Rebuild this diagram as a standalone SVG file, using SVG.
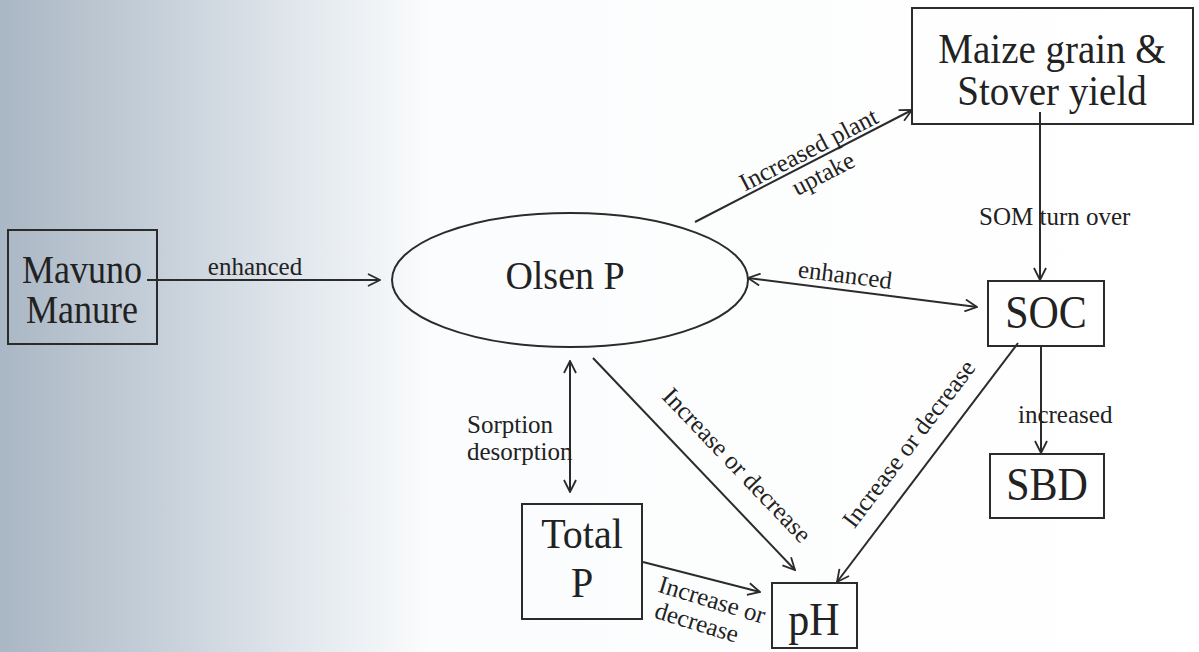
<svg xmlns="http://www.w3.org/2000/svg" width="1199" height="652" viewBox="0 0 1199 652">
<defs>
<linearGradient id="bg" x1="0" y1="0" x2="1" y2="0" gradientUnits="objectBoundingBox">
<stop offset="0" stop-color="#aab7c4"/>
<stop offset="0.12" stop-color="#c3cdd7"/>
<stop offset="0.27" stop-color="#e6ebf0"/>
<stop offset="0.36" stop-color="#fbfcfd"/>
<stop offset="1" stop-color="#ffffff"/>
</linearGradient>
<marker id="ah" viewBox="0 0 14 14" refX="13" refY="7" markerWidth="14" markerHeight="14" markerUnits="userSpaceOnUse" orient="auto-start-reverse">
<path d="M1,1 L13,7 L1,13" fill="none" stroke="#2b2b2b" stroke-width="1.8"/>
</marker>
</defs>
<style>
.box{fill:none;stroke:#2b2b2b;stroke-width:2}
.node{font-family:"Liberation Serif","Times New Roman",serif;fill:#222;text-anchor:middle}
.lbl{font-family:"Liberation Serif","Times New Roman",serif;fill:#222;font-size:25px}
.c{stroke:#2b2b2b;stroke-width:2;fill:none}
</style>
<rect x="0" y="0" width="1199" height="652" fill="url(#bg)"/>

<g id="mavuno">
<rect class="box" x="8" y="230" width="149" height="114"/>
<text class="node" transform="translate(82,283) scale(1,1.1)" font-size="36">Mavuno</text>
<text class="node" transform="translate(82,323) scale(1,1.1)" font-size="36">Manure</text>
</g>
<g id="olsen">
<ellipse class="box" cx="570" cy="280" rx="178" ry="67"/>
<text class="node" transform="translate(565,289) scale(1,1.08)" font-size="38">Olsen P</text>
</g>
<g id="maize">
<rect class="box" x="912" y="8" width="281" height="116"/>
<text class="node" transform="translate(1052,63) scale(1,1.06)" font-size="39">Maize grain &amp;</text>
<text class="node" transform="translate(1052,105) scale(1,1.06)" font-size="39">Stover yield</text>
</g>
<g id="soc">
<rect class="box" x="988" y="281" width="116" height="65"/>
<text class="node" transform="translate(1046,328) scale(1,1.08)" font-size="42">SOC</text>
</g>
<g id="sbd">
<rect class="box" x="990" y="454" width="114" height="64"/>
<text class="node" transform="translate(1047,500) scale(1,1.08)" font-size="42">SBD</text>
</g>
<g id="totalp">
<rect class="box" x="522" y="504" width="120" height="115"/>
<text class="node" transform="translate(582,548) scale(1,1.08)" font-size="40">Total</text>
<text class="node" transform="translate(582,597) scale(1,1.08)" font-size="40">P</text>
</g>
<g id="ph">
<rect class="box" x="772" y="583" width="85" height="65"/>
<text class="node" transform="translate(814,635) scale(1,1.08)" font-size="42">pH</text>
</g>

<g id="connectors">
<line class="c" x1="147" y1="280" x2="380" y2="280" marker-end="url(#ah)"/>
<text class="lbl" x="255" y="275" text-anchor="middle">enhanced</text>

<line class="c" x1="695" y1="222" x2="912" y2="110" marker-end="url(#ah)"/>
<g transform="translate(814.1,160.5) rotate(-27.3)">
<text class="lbl" x="0" y="-4" text-anchor="middle">Increased plant</text>
<text class="lbl" x="2" y="24" text-anchor="middle">uptake</text>
</g>

<line class="c" x1="1040" y1="112" x2="1040" y2="280" marker-end="url(#ah)"/>
<text class="lbl" x="979" y="225">SOM turn over</text>

<line class="c" x1="748" y1="278" x2="977" y2="307" marker-start="url(#ah)" marker-end="url(#ah)"/>
<g transform="translate(843.1,290) rotate(7.2)">
<text class="lbl" x="0" y="-7" text-anchor="middle">enhanced</text>
</g>

<line class="c" x1="1041" y1="346" x2="1041" y2="453" marker-end="url(#ah)"/>
<text class="lbl" x="1018" y="423">increased</text>

<line class="c" x1="1018" y1="343" x2="837" y2="582" marker-end="url(#ah)"/>
<g transform="translate(929.7,459.6) rotate(-52.9)">
<text class="lbl" x="0" y="-18" text-anchor="middle">Increase or decrease</text>
</g>

<line class="c" x1="593" y1="358" x2="795" y2="570" marker-end="url(#ah)"/>
<g transform="translate(715,486) rotate(46.4)">
<text class="lbl" x="0" y="-22" text-anchor="middle">Increase or decrease</text>
</g>

<line class="c" x1="570" y1="361" x2="570" y2="492" marker-start="url(#ah)" marker-end="url(#ah)"/>
<text class="lbl" x="467" y="433">Sorption</text>
<text class="lbl" x="467" y="460">desorption</text>

<line class="c" x1="643" y1="562" x2="760" y2="592" marker-end="url(#ah)"/>
<g transform="translate(712,600) rotate(17)">
<text class="lbl" x="0" y="8" text-anchor="middle">Increase or</text>
<text class="lbl" x="-8" y="34" text-anchor="middle">decrease</text>
</g>
</g>
</svg>
